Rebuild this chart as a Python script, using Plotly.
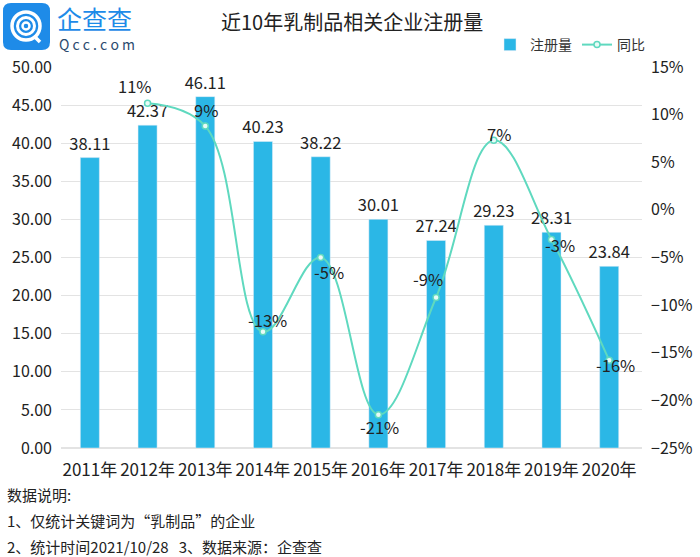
import plotly.graph_objects as go

years = ["2011年", "2012年", "2013年", "2014年", "2015年", "2016年", "2017年", "2018年", "2019年", "2020年"]
registrations = [38.11, 42.37, 46.11, 40.23, 38.22, 30.01, 27.24, 29.23, 28.31, 23.84]
yoy_years = ["2012年", "2013年", "2014年", "2015年", "2016年", "2017年", "2018年", "2019年", "2020年"]
yoy_pct = [11.2, 8.8, -12.8, -5.0, -21.5, -9.2, 7.3, -3.1, -15.8]
yoy_labels = ["11%", "9%", "-13%", "-5%", "-21%", "-9%", "7%", "-3%", "-16%"]

title_text = "近10年乳制品相关企业注册量"
notes = ["数据说明:", "1、仅统计关键词为“乳制品”的企业", "2、统计时间2021/10/28\u00a0\u00a0 3、数据来源：企查查"]

FONT = "Noto Sans CJK SC, Noto Sans, sans-serif"
BAR_C = "#2bb7e6"
LINE_C = "#5fd9bf"

# plot area in pixels
L, R, T, B = 61, 642, 67, 448
W, H = R - L, B - T
def px(x):
    return (x - L) / W
def py(y):
    return (B - y) / H

fig = go.Figure()
fig.add_trace(go.Bar(
    x=years, y=registrations, name="注册量", marker_color=BAR_C,
    text=[f"{v:.2f}" for v in registrations], textposition="outside", constraintext="none",
    textfont=dict(size=16.5, color="#222", family=FONT), cliponaxis=False,
))
fig.add_trace(go.Scatter(
    x=yoy_years, y=yoy_pct, name="同比", yaxis="y2", mode="lines+markers",
    line=dict(color=LINE_C, width=2, shape="spline", smoothing=1.1),
    marker=dict(size=6, color="#e8fbf6", line=dict(color=LINE_C, width=1.5)),
    cliponaxis=False,
))

# percent labels
offsets = [(-13, 17), (1, 16), (5, 12), (8, -14), (1, -12), (-8, 19), (5, 6), (9, -6), (6, -5)]
annotations = []
for xv, yv, lab, (dx, dy) in zip(yoy_years, yoy_pct, yoy_labels, offsets):
    annotations.append(dict(x=xv, y=yv, xref="x", yref="y2", text=lab, showarrow=False,
                            xshift=dx, yshift=dy, font=dict(size=16.5, color="#222", family=FONT)))

# title
annotations.append(dict(x=px(352), y=py(22), xref="paper", yref="paper", text=title_text,
                        xanchor="center", yanchor="middle",
                        showarrow=False, font=dict(size=20, color="#222", family=FONT)))
# logo texts
annotations.append(dict(x=px(56), y=py(18), xref="paper", yref="paper", text="企查查",
                        xanchor="left", yanchor="middle", borderpad=0,
                        showarrow=False, font=dict(size=25, color="#1e8be8", family=FONT)))
annotations.append(dict(x=px(57), y=py(44), xref="paper", yref="paper", text="Q c c . c o m",
                        xanchor="left", yanchor="middle",
                        showarrow=False, font=dict(size=14, color="#2b4a6e", family=FONT)))
# notes
for i, n in enumerate(notes):
    annotations.append(dict(x=px(5), y=py(494 + 26 * i), xref="paper", yref="paper", text=n,
                            xanchor="left", yanchor="middle", showarrow=False,
                            font=dict(size=15, color="#222", family=FONT)))

shapes = []
# logo rounded square
x0, y0, x1, y1, r = 3, 3, 50, 50, 8
def P(x, y):
    return f"{px(x)},{py(y)}"
path = (f"M {P(x0 + r, y0)} L {P(x1 - r, y0)} Q {P(x1, y0)} {P(x1, y0 + r)} L {P(x1, y1 - r)} "
        f"Q {P(x1, y1)} {P(x1 - r, y1)} L {P(x0 + r, y1)} Q {P(x0, y1)} {P(x0, y1 - r)} "
        f"L {P(x0, y0 + r)} Q {P(x0, y0)} {P(x0 + r, y0)} Z")
shapes.append(dict(type="path", xref="paper", yref="paper", path=path, fillcolor="#1e8be8", line=dict(width=0)))
for rad, wd in [(14, 3.5), (8.5, 3), (3.5, 2.5)]:
    cx, cy = 26, 26
    shapes.append(dict(type="circle", xref="paper", yref="paper",
                       x0=px(cx - rad), x1=px(cx + rad), y0=py(cy + rad), y1=py(cy - rad),
                       line=dict(color="white", width=wd)))
shapes.append(dict(type="line", xref="paper", yref="paper", x0=px(34), y0=py(36), x1=px(40), y1=py(42),
                   line=dict(color="white", width=3.5)))

fig.update_layout(
    width=700, height=557,
    margin=dict(l=L, r=700 - R, t=T, b=557 - B, autoexpand=False),
    paper_bgcolor="white", plot_bgcolor="white",
    font=dict(family=FONT, color="#222"),
    bargap=0.67,
    showlegend=True,
    legend=dict(orientation="h", xref="container", yref="container", x=0.70, y=1 - 45 / 557,
                xanchor="left", yanchor="middle", font=dict(size=14, color="#333", family=FONT),
                bgcolor="rgba(0,0,0,0)", itemwidth=30, tracegroupgap=0),
    xaxis=dict(showgrid=False, showline=False, ticks="", tickfont=dict(size=17, color="#222"),
               ticklabelstandoff=10),
    yaxis=dict(range=[0, 50], dtick=5, tickformat=".2f", showgrid=True, gridcolor="#e3e3e3",
               zeroline=True, zerolinecolor="#e3e3e3", showline=False,
               tickfont=dict(size=16, color="#222"), ticklabelstandoff=8),
    yaxis2=dict(range=[-25, 15], dtick=5, ticksuffix="%", overlaying="y", side="right",
                showgrid=False, zeroline=False, showline=False,
                tickfont=dict(size=16, color="#222"), ticklabelstandoff=8),
    annotations=annotations,
    shapes=shapes,
)

fig.write_html("out.html", config={"displayModeBar": False},
               post_script="document.body.style.margin='0px';document.body.style.overflow='hidden';")
